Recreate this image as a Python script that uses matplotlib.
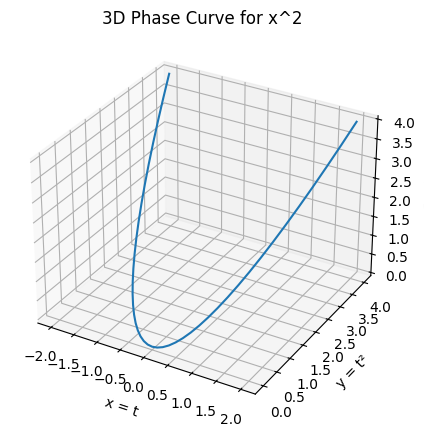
import matplotlib
matplotlib.use("Agg")
import matplotlib.pyplot as plt

# values
x_vals = [-2.0, -1.9, -1.8, -1.7, -1.6, -1.5, -1.4, -1.3, -1.2, -1.1, -1.0,
          -0.9, -0.8, -0.7, -0.6, -0.5, -0.4, -0.3, -0.2, -0.1, 0.0,
          0.1, 0.2, 0.3, 0.4, 0.5, 0.6, 0.7, 0.8, 0.9, 1.0,
          1.1, 1.2, 1.3, 1.4, 1.5, 1.6, 1.7, 1.8, 1.9, 2.0]
y_vals = [4.0, 3.61, 3.24, 2.89, 2.56, 2.25, 1.96, 1.69, 1.44, 1.21, 1.0,
          0.81, 0.64, 0.49, 0.36, 0.25, 0.16, 0.09, 0.04, 0.01, 0.0,
          0.01, 0.04, 0.09, 0.16, 0.25, 0.36, 0.49, 0.64, 0.81, 1.0,
          1.21, 1.44, 1.69, 1.96, 2.25, 2.56, 2.89, 3.24, 3.61, 4.0]
z_vals = list(y_vals)

fig = plt.figure(figsize=(4.24, 4.35), dpi=100)
ax = fig.add_axes([0.0205, 0.0356, 0.9127, 0.8897], projection='3d')
ax.plot(x_vals, y_vals, z_vals)
ax.set_xlabel('x = t')
ax.set_ylabel('y = t²')
ax.set_zlabel('z = t²')
ax.set_title('3D Phase Curve for x^2')

fig.savefig('out.png', dpi=100)
